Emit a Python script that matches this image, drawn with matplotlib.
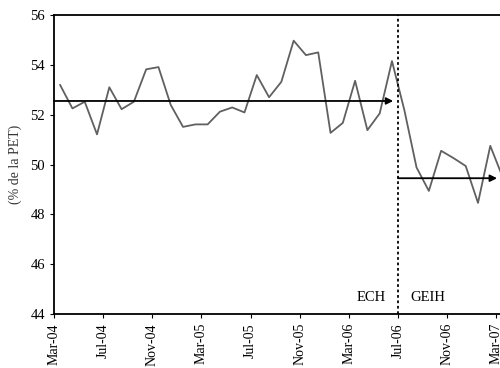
import numpy as np
import matplotlib.pyplot as plt

# tasa de ocupacion mensual (% de la PET), Mar-04 .. Mar-07
values = [53.19, 52.25, 52.52, 51.21, 53.10, 52.22, 52.52, 53.82, 53.91, 52.39,
          51.51, 51.61, 51.61, 52.12, 52.29, 52.09, 53.59, 52.70, 53.32, 54.97,
          54.39, 54.50, 51.27, 51.67, 53.36, 51.38, 52.05, 54.15,
          52.20, 49.88, 48.94, 50.55, 50.26, 49.94, 48.46, 50.75, 49.50]
tick_labels = ['Mar-04', 'Jul-04', 'Nov-04', 'Mar-05', 'Jul-05', 'Nov-05',
               'Mar-06', 'Jul-06', 'Nov-06', 'Mar-07']
break_month = 28          # Jul-06: cambio de ECH a GEIH
ech_mean = 52.55
geih_mean = 49.45

plt.rcParams['font.family'] = ['Liberation Serif', 'DejaVu Serif']

fig = plt.figure(figsize=(5.0, 3.68), dpi=100)
ax = fig.add_axes([0.108, 0.1467, 0.95, 0.8125])

x = np.arange(len(values)) + 0.5
ax.plot(x, values, color='#606060', lw=1.3)

# promedios de cada encuesta
ax.annotate('', xy=(27.6, ech_mean), xytext=(0, ech_mean),
            arrowprops=dict(arrowstyle='-|>', color='black', lw=1.3,
                            mutation_scale=10, shrinkA=0, shrinkB=0))
ax.annotate('', xy=(36.05, geih_mean), xytext=(break_month, geih_mean),
            arrowprops=dict(arrowstyle='-|>', color='black', lw=1.3,
                            mutation_scale=10, shrinkA=0, shrinkB=0))

ax.axvline(break_month, color='black', ls=(0, (1.5, 1.5)), lw=1.3)
ax.text(break_month - 1.0, 44.4, 'ECH', ha='right', va='bottom', fontsize=10.5)
ax.text(break_month + 1.0, 44.4, 'GEIH', ha='left', va='bottom', fontsize=10.5)

ax.set_xlim(0, 38.65)
ax.set_ylim(44, 56)
ax.set_yticks(np.arange(44, 57, 2))
ax.set_xticks(np.arange(len(tick_labels)) * 4)
ax.set_xticklabels(tick_labels, rotation=90, fontsize=10)
ax.tick_params(axis='y', labelsize=10.5, length=3, direction='out')
ax.tick_params(axis='x', length=3, direction='out')
ax.set_ylabel('(% de la PET)', fontsize=10, color='#333333', labelpad=6)

ax.spines['right'].set_visible(False)
for s in ['left', 'bottom', 'top']:
    ax.spines[s].set_linewidth(1.3)

fig.savefig('out.png', dpi=100)
